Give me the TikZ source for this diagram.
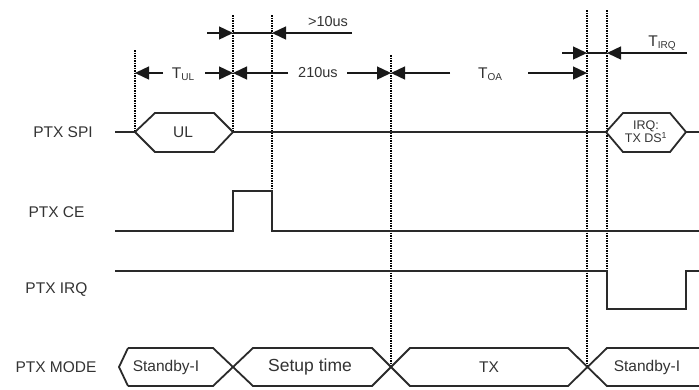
\documentclass[tikz,border=0pt]{standalone}
\usepackage{fontspec}
\setmainfont{Liberation Sans}
\usetikzlibrary{arrows.meta}
\definecolor{sigc}{HTML}{2A2A2A}
\definecolor{txtc}{HTML}{333333}
\begin{document}
\begin{tikzpicture}[x=1pt,y=-1pt,
  sig/.style={draw=sigc, line width=1.8pt, line join=miter},
  guide/.style={draw=black, line width=1.7pt, dash pattern=on 1.5pt off 1pt},
  dim/.style={draw=black!90, line width=1.4pt, -{Triangle[length=14pt,width=13pt]}},
  dimline/.style={draw=black!90, line width=1.4pt},
  lab/.style={text=txtc, font=\fontsize{15.5}{18}\selectfont, inner sep=0pt},
  small/.style={text=txtc, font=\fontsize{12.5}{14}\selectfont, inner sep=0pt, align=center}]
\useasboundingbox (0,0) rectangle (699,389);
\fill[white] (0,0) rectangle (699,389);

% guide lines
\draw[guide] (135,50) -- (135,132);
\draw[guide] (233,15) -- (233,132);
\draw[guide] (272,15) -- (272,191);
\draw[guide] (391,55) -- (391,367);
\draw[guide] (587,10) -- (587,367);
\draw[guide] (607,10) -- (607,271);

% row labels
\node[lab] (lspi) at (63,132) {PTX SPI};
\node[lab] (lce) at (56.5,212) {PTX CE};
\node[lab] (lirq) at (56.5,290) {PTX IRQ};
\node[lab] (lmode) at (56,367) {PTX MODE};

% SPI
\draw[sig] (115,132) -- (135,132);
\draw[sig] (135,132) -- (155,113) -- (214,113) -- (233,132) -- (214,152) -- (155,152) -- cycle;
\draw[sig] (233,132) -- (606,132);
\draw[sig] (606,132) -- (623,113) -- (670,113) -- (686,132) -- (670,152) -- (623,152) -- cycle;
\draw[sig] (686,132) -- (699,132);
\node[lab] (ul) at (183,132) {UL};
\node[small] (irqtx) at (646,132) {IRQ:\\[-1pt]TX DS\textsuperscript{1}};

% CE
\draw[sig] (115,231) -- (233,231) -- (233,191) -- (272,191) -- (272,231) -- (699,231);

% IRQ
\draw[sig] (115,271) -- (607,271) -- (607,309) -- (686,309) -- (686,271) -- (699,271);

% MODE
\draw[sig] (128,348) -- (119,367) -- (128,386);
\draw[sig] (128,348) -- (213,348) -- (253,386) -- (372,386) -- (410,348) -- (568,348) -- (607,386) -- (699,386);
\draw[sig] (128,386) -- (213,386) -- (253,348) -- (372,348) -- (410,386) -- (568,386) -- (607,348) -- (699,348);
\node[lab] (m1) at (166,367) {Standby-I};
\node[text=txtc, font=\fontsize{17.5}{20}\selectfont, inner sep=0pt] (m2) at (310,367) {Setup time};
\node[lab] (m3) at (489,367) {TX};
\node[lab] (m4) at (647,367) {Standby-I};

% dimension arrows
\coordinate (a1) at (207,33); \coordinate (b1) at (233,33);
\coordinate (a2) at (352,33); \coordinate (b2) at (272,33);
\draw[dimline] (b1) -- (b2);
\draw[dim] (a1) -- (b1);
\draw[dim] (a2) -- (b2);
\node[lab, font=\fontsize{14.5}{17}\selectfont] (t10) at (328,22) {>10us};

\coordinate (c1) at (163,73); \coordinate (d1) at (135,73);
\coordinate (c2) at (205,73); \coordinate (d2) at (233,73);
\draw[dim] (c1) -- (d1);
\draw[dim] (c2) -- (d2);
\node[lab] (tul) at (183,74) {T{\fontsize{10}{12}\selectfont\raisebox{-2.5pt}{UL}}};

\coordinate (e1) at (288,73); \coordinate (f1) at (233,73);
\coordinate (e2) at (347,73); \coordinate (f2) at (391,73);
\draw[dim] (e1) -- (f1);
\draw[dim] (e2) -- (f2);
\node[lab, font=\fontsize{14.5}{17}\selectfont] (t210) at (318,73) {210us};

\coordinate (g1) at (450,73); \coordinate (h1) at (391,73);
\coordinate (g2) at (528,73); \coordinate (h2) at (587,73);
\draw[dim] (g1) -- (h1);
\draw[dim] (g2) -- (h2);
\node[lab] (toa) at (490,74) {T{\fontsize{10}{12}\selectfont\raisebox{-2.5pt}{OA}}};

\coordinate (i1) at (562,53); \coordinate (j1) at (587,53);
\coordinate (i2) at (687,53); \coordinate (j2) at (607,53);
\draw[dimline] (j1) -- (j2);
\draw[dim] (i1) -- (j1);
\draw[dim] (i2) -- (j2);
\node[lab] (tirq) at (662,43) {T{\fontsize{10}{12}\selectfont\raisebox{-2.5pt}{IRQ}}};
\end{tikzpicture}
\end{document}
